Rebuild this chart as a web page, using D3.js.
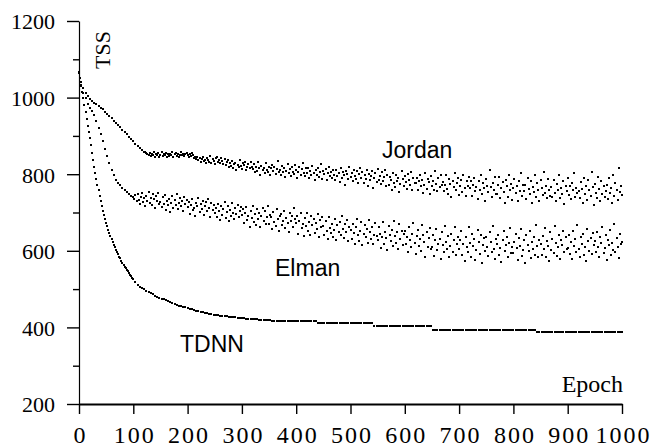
<!DOCTYPE html>
<html>
<head>
<meta charset="utf-8">
<script src="https://cdn.jsdelivr.net/npm/d3@7"></script>
<style>
  body { margin: 0; background: #fff; }
  svg { display: block; }
</style>
</head>
<body>
<svg id="chart" width="664" height="448"></svg>
<script>
// samples; spacing follows the dot spacing seen on each curve
const jordanEpochs = d3.range(0, 120, 4).concat(d3.range(120, 1001, 2));
const elmanEpochs = d3.range(0, 100, 4).concat(d3.range(100, 1001, 2));
const tdnnEpochs = d3.range(0, 100, 2).concat(d3.range(100, 1001, 4));

const tdnn = [
  1068,1050,1032,1015,998,980,962,943,927,910,894,875,856,838,820,803,787,772,758,744,730,717,705,694,683,
  673,664,655,646,638,630,623,616,609,603,597,591,585,580,574,569,564,559,555,550,546,542,538,534,530,
  527,519,512,506,502,499,495,492,489,486,483,480,478,
  475,473,471,468,466,464,461,459,457,456,454,452,
  450,449,447,446,444,442,441,440,438,437,436,435,433,
  433,432,431,430,429,429,428,427,426,426,425,424,
  424,424,423,423,422,422,421,421,420,420,420,419,419,
  419,418,418,418,417,417,417,417,417,417,417,417,
  417,417,417,417,417,417,417,417,417,417,412,412,412,
  412,412,412,412,412,412,412,412,412,412,412,412,
  412,412,412,412,412,412,412,412,412,412,412,403,403,
  403,403,403,403,403,403,403,403,403,403,403,403,
  403,403,403,403,403,403,403,403,403,403,403,403,403,
  394,394,394,394,394,394,394,394,394,394,394,394,
  394,394,394,394,394,394,394,394,394,394,394,394,394,
  394,394,394,394,394,394,394,394,394,394,394,394,
  394,394,394,394,394,394,394,394,394,394,394,389,389,
  389,389,389,389,389,389,389,389,389,389,389,389,
  389,389,389,389,389,389,389,389,389,389,389,389,389,
  389,389,389,389,389,389,389,389,389,389,389,389,
  389
];

const elman = [
  1065,1030,1012,998,984,973,964,954,938,921,905,887,866,
  847,829,812,797,786,778,771,764,758,753,747,743,
  741,736,745,729,748,733,722,740,751,727,737,716,744,731,753,725,739,719,747,734,712,742,729,750,721,
  728,714,740,722,745,707,731,719,736,702,726,743,713,733,720,748,709,724,738,716,729,705,741,721,732,
  715,728,697,720,735,706,712,690,726,717,738,701,722,709,731,694,718,727,703,736,711,689,724,707,719,
  698,713,689,722,705,680,716,694,709,727,686,701,718,678,707,691,724,699,684,712,696,720,688,705,715,
  693,708,672,699,714,681,690,663,705,686,717,676,696,668,710,684,700,661,692,712,679,703,670,688,716,
  671,694,688,657,702,676,664,709,683,651,690,697,668,679,705,660,686,673,649,698,677,692,663,711,682,
  672,690,645,679,698,660,670,638,686,664,700,651,675,641,692,667,683,646,673,657,695,636,680,662,688,
  664,641,679,653,630,688,660,646,671,637,655,684,628,667,650,674,642,691,657,634,669,648,681,626,662,
  655,632,671,647,619,662,684,640,626,653,675,614,644,667,636,658,621,680,649,630,663,617,642,672,638,
  628,661,645,607,636,674,619,650,633,602,666,641,625,655,612,677,639,621,648,604,669,631,653,616,644,
  651,617,635,596,662,628,609,644,672,620,591,638,655,613,630,600,667,642,623,585,648,611,634,659,604,
  610,641,586,627,657,601,619,632,578,650,615,596,666,624,605,638,583,613,645,598,629,662,590,618,637,
  604,628,651,590,617,574,636,609,598,662,621,583,645,612,630,577,603,655,624,592,640,568,615,633,600,
  637,611,586,648,622,596,665,605,579,631,618,642,589,608,572,627,653,599,614,636,583,620,660,593,610,
  594,622,645,608,575,633,613,658,587,603,628,569,641,616,599,652,581,624,606,637,590,667,612,584,629,
  618,590,639,606,660,583,625,612,574,648,601,632,595,664,620,587,609,642,578,627,615,653,598,635,604,
  607,641,592,624,578,652,613,631,596,668,605,583,637,619,645,589,610,574,658,626,600,634,591,647,616,
  625,598,648,611,584,636,620,662,594,607,640,576,629,614,655,588,621,603,670,597,633,609,582,644,618,
  622
];

const jordan = [
  1065,1040,1025,1012,1003,996,991,987,983,978,973,969,963,
  957,951,947,940,934,928,922,916,910,904,898,892,
  887,880,874,868,862,
  859,857,855,853,851,856,848,852,849,857,846,853,850,855,845,851,858,847,853,849,856,844,852,848,854,
  850,857,846,852,855,848,853,845,851,858,849,854,847,852,856,850,845,853,848,855,851,842,846,839,844,
  837,843,831,840,846,834,838,829,842,836,833,847,830,839,835,827,841,845,832,837,828,843,834,826,839,
  824,831,836,818,828,822,834,815,826,830,812,825,819,837,821,814,829,823,833,811,820,827,816,832,818,
  813,826,805,819,808,831,815,799,822,810,817,803,828,812,807,820,797,815,824,809,818,801,814,834,806,
  811,798,822,805,816,792,809,827,803,814,795,819,807,800,824,812,790,806,818,799,813,829,804,794,817,
  803,815,790,808,797,821,802,786,811,798,817,793,805,826,788,809,800,814,784,802,819,795,807,791,812,
  798,785,811,794,803,779,816,790,806,797,773,809,800,788,819,793,804,782,812,796,787,808,776,801,815,
  791,806,778,797,787,812,770,800,784,795,808,765,790,803,779,814,786,796,774,805,782,792,810,768,799,
  771,792,785,758,803,776,766,798,781,789,754,774,809,787,768,795,779,762,801,784,773,807,760,790,777,
  776,790,758,781,797,768,784,751,773,803,762,787,779,748,795,770,783,760,808,775,756,789,766,798,771,
  779,755,771,797,762,749,788,774,741,783,767,802,758,776,791,745,770,785,753,798,764,744,781,769,792,
  765,781,744,772,790,756,767,735,783,760,798,749,776,763,729,787,770,753,812,766,741,778,759,793,747,
  748,771,792,737,763,779,754,726,786,768,741,799,759,775,733,764,788,750,769,729,781,757,803,744,772,
  756,773,735,790,761,748,782,724,767,754,799,741,776,759,730,785,765,746,807,752,770,738,788,758,744,
  767,741,786,752,729,775,760,798,737,764,749,782,723,770,756,791,745,768,734,777,759,802,740,763,751,
  755,738,779,762,724,790,748,770,733,785,758,744,806,766,719,775,752,739,793,761,729,781,747,768,741,
  757,773,735,789,750,764,726,798,744,778,760,732,815,753,769,745
];

const xTicks = [0, 100, 200, 300, 400, 500, 600, 700, 800, 900, 1000];
const yTicks = [200, 400, 600, 800, 1000, 1200];
const yMinorTicks = [300, 500, 700, 900, 1100];
const seriesNames = ["Jordan", "Elman", "TDNN"];

const serif = "'Liberation Serif', 'Times New Roman', serif";
const sans = "'Liberation Sans', Arial, sans-serif";

console.log("lengths", jordan.length, jordanEpochs.length, elman.length, elmanEpochs.length, tdnn.length, tdnnEpochs.length);

let xScale = d3.scaleLinear().domain([0, 1000]).range([79, 622]);
let yScale = d3.scaleLinear().domain([200, 1200]).range([404, 21]);

let svg = d3.select("#chart");

// small ticks between the labelled ones
svg.append("g")
  .attr("class", "axis-y-minor")
  .attr("transform", "translate(79,0)")
  .call(d3.axisLeft(yScale).tickValues(yMinorTicks).tickSize(6).tickFormat(""))
  .call(function(g) { g.select(".domain").remove(); });

let yAxis = d3.axisLeft(yScale)
  .tickValues(yTicks)
  .tickFormat(d3.format("d"))
  .tickSize(12).tickSizeOuter(0).tickPadding(12);
let gy = svg.append("g")
  .attr("class", "axis-y")
  .attr("transform", "translate(79,0)")
  .call(yAxis);
gy.selectAll("text")
  .attr("font-family", serif)
  .attr("font-size", 22)
  .attr("fill", "#000")
  .attr("dy", "0.36em");

let xAxis = d3.axisBottom(xScale)
  .tickValues(xTicks)
  .tickFormat(d3.format("d"))
  .tickSize(10).tickSizeOuter(0).tickPadding(11.5);
let gx = svg.append("g")
  .attr("class", "axis-x")
  .attr("transform", "translate(0,404)")
  .call(xAxis);
gx.selectAll("text")
  .attr("font-family", serif)
  .attr("font-size", 24)
  .attr("letter-spacing", "2px")
  .attr("dx", "1px")
  .attr("fill", "#000");
gx.select(".domain").attr("stroke-width", 2);

svg.selectAll(".tick line").attr("stroke", "#000").attr("stroke-width", 1.4);
gy.select(".domain").attr("stroke", "#000").attr("stroke-width", 1.2);

// dots, one small square per sample
[[jordanEpochs, jordan], [elmanEpochs, elman], [tdnnEpochs, tdnn]].forEach(function(s) {
  svg.append("g")
    .selectAll("rect")
    .data(d3.zip(s[0], s[1]))
    .join("rect")
    .attr("x", function(d) { return xScale(d[0]) - 1; })
    .attr("y", function(d) { return yScale(d[1]) - 1; })
    .attr("width", 2)
    .attr("height", 2)
    .attr("shape-rendering", "crispEdges")
    .attr("fill", "#000");
});

// series names placed in data space
let labelAt = { Jordan: [558, 842], Elman: [361, 534], TDNN: [186, 336] };
svg.append("g")
  .selectAll("text")
  .data(seriesNames)
  .join("text")
  .attr("x", function(d) { return xScale(labelAt[d][0]); })
  .attr("y", function(d) { return yScale(labelAt[d][1]); })
  .attr("font-family", sans)
  .attr("font-size", 23)
  .attr("fill", "#000")
  .text(function(d) { return d; });

svg.append("text")
  .attr("transform", "translate(110,50) rotate(-90)")
  .attr("text-anchor", "middle")
  .attr("font-family", serif)
  .attr("font-size", 22)
  .text("TSS");

svg.append("text")
  .attr("x", 623)
  .attr("y", 392)
  .attr("text-anchor", "end")
  .attr("font-family", serif)
  .attr("font-size", 24)
  .text("Epoch");
</script>
</body>
</html>
